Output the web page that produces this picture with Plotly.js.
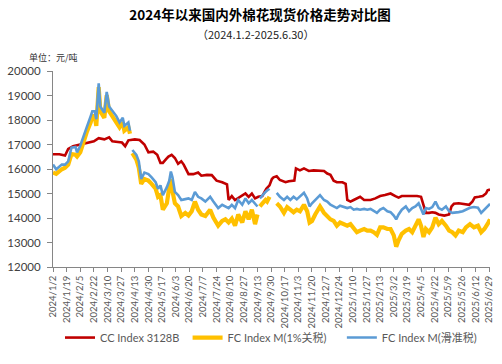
<!DOCTYPE html>
<html><head><meta charset="utf-8">
<script src="https://cdn.plot.ly/plotly-3.0.1.min.js"></script>
<style>html,body{margin:0;padding:0;background:#fff}#chart{width:502px;height:364px}</style>
</head><body><div id="chart"></div>
<script>
const redDates = ['2024-01-02','2024-01-10','2024-01-17','2024-01-21','2024-01-27','2024-02-05','2024-02-13','2024-02-22','2024-02-28','2024-03-06','2024-03-12','2024-03-16','2024-03-23','2024-03-28','2024-04-01','2024-04-05','2024-04-13','2024-04-19','2024-04-25','2024-04-30','2024-05-06','2024-05-11','2024-05-15','2024-05-18','2024-05-22','2024-05-25','2024-05-29','2024-06-02','2024-06-06','2024-06-10','2024-06-13','2024-06-19','2024-06-25','2024-07-01','2024-07-05','2024-07-12','2024-07-18','2024-07-24','2024-07-31','2024-08-06','2024-08-08','2024-08-12','2024-08-16','2024-08-22','2024-08-29','2024-09-02','2024-09-06','2024-09-10','2024-09-14','2024-09-19','2024-09-24','2024-09-28','2024-10-01','2024-10-03','2024-10-07','2024-10-11','2024-10-18','2024-10-22','2024-10-29','2024-10-31','2024-11-05','2024-11-10','2024-11-16','2024-11-22','2024-11-28','2024-12-05','2024-12-09','2024-12-13','2024-12-17','2024-12-21','2024-12-28','2025-01-01','2025-01-03','2025-01-07','2025-01-11','2025-01-16','2025-01-19','2025-01-24','2025-02-01','2025-02-07','2025-02-13','2025-02-19','2025-02-26','2025-03-04','2025-03-08','2025-03-12','2025-03-19','2025-03-25','2025-03-31','2025-04-05','2025-04-09','2025-04-11','2025-04-15','2025-04-19','2025-04-23','2025-04-27','2025-05-04','2025-05-10','2025-05-13','2025-05-16','2025-05-22','2025-05-29','2025-06-04','2025-06-08','2025-06-11','2025-06-16','2025-06-21','2025-06-25','2025-06-27','2025-06-30'];
const ccIndex = [16605,16605,16550,16815,16934,17010,17065,17130,17260,17210,17290,17130,17100,17080,16930,17170,17210,17180,17000,16680,16710,16580,16250,16250,16400,16510,16580,16450,16210,16315,16180,15790,15790,15855,15725,15760,15750,15525,15460,15370,14735,14895,14735,14865,15000,14865,15000,14800,14865,14895,15195,15330,15590,15660,15700,15550,15460,15500,15525,16025,15945,16025,15920,15945,15945,15920,15815,15760,15525,15460,15460,15395,14735,14670,14735,14800,14865,14735,14735,14800,14895,14935,15000,14895,14830,14895,14895,14910,14895,14865,14470,14210,14210,14235,14210,14145,14100,14145,14470,14580,14600,14580,14540,14670,14840,14865,14895,15000,15130,15160];

const fcDates = ['2024-01-02','2024-01-06','2024-01-13','2024-01-17','2024-01-21','2024-01-25','2024-01-30','2024-02-01','2024-02-05','2024-02-09','2024-02-13','2024-02-18','2024-02-20','2024-02-23','2024-02-25','2024-02-28','2024-03-01','2024-03-06','2024-03-09','2024-03-12','2024-03-16','2024-03-21','2024-03-25','2024-03-29','2024-03-31','2024-04-05','2024-04-07','2024-04-08','2024-04-10','2024-04-15','2024-04-18','2024-04-21','2024-04-25','2024-04-30','2024-05-04','2024-05-09','2024-05-12','2024-05-15','2024-05-18','2024-05-23','2024-05-26','2024-05-28','2024-05-30','2024-06-02','2024-06-06','2024-06-10','2024-06-15','2024-06-19','2024-06-23','2024-06-27','2024-07-01','2024-07-05','2024-07-10','2024-07-16','2024-07-20','2024-07-26','2024-07-31','2024-08-04','2024-08-08','2024-08-12','2024-08-16','2024-08-20','2024-08-25','2024-08-29','2024-09-02','2024-09-06','2024-09-10','2024-09-13','2024-09-15','2024-09-16','2024-09-19','2024-09-23','2024-09-25','2024-09-28','2024-10-03','2024-10-07','2024-10-11','2024-10-16','2024-10-20','2024-10-24','2024-10-28','2024-11-01','2024-11-05','2024-11-10','2024-11-14','2024-11-17','2024-11-20','2024-11-24','2024-11-30','2024-12-05','2024-12-09','2024-12-13','2024-12-17','2024-12-21','2024-12-25','2024-12-30','2025-01-03','2025-01-07','2025-01-11','2025-01-15','2025-01-19','2025-01-24','2025-01-28','2025-02-01','2025-02-05','2025-02-09','2025-02-13','2025-02-17','2025-02-22','2025-02-26','2025-03-02','2025-03-05','2025-03-08','2025-03-12','2025-03-17','2025-03-21','2025-03-25','2025-03-29','2025-04-02','2025-04-05','2025-04-08','2025-04-11','2025-04-15','2025-04-19','2025-04-23','2025-04-27','2025-05-01','2025-05-06','2025-05-10','2025-05-14','2025-05-18','2025-05-22','2025-05-27','2025-05-31','2025-06-05','2025-06-10','2025-06-15','2025-06-19','2025-06-23','2025-06-28','2025-06-30'];
const fcSliding = [16180,15990,16180,16180,16315,16870,16900,16680,16950,17370,17700,18160,18355,18355,18030,19500,18550,18290,19145,18550,18355,18160,17900,18090,17760,17900,17565,null,16775,16580,16315,15590,15855,15790,15660,15460,15195,15330,14935,15260,15525,15895,15660,15065,14935,14735,14770,14800,14735,15065,14865,14800,14670,14865,14670,14405,14540,14470,14405,14540,14405,14735,14540,14800,14600,14735,14600,14470,null,14800,14935,15065,15120,15195,null,15025,14865,14735,14865,14735,14865,14760,14865,15025,14800,14470,14600,14750,14935,14735,14670,14540,14470,14405,14500,14445,14405,14445,14340,14370,14340,14370,14340,14370,14275,14210,14340,14405,14275,14240,14100,13945,14145,14340,14470,14275,14405,14470,14600,14405,14145,14405,14370,14445,14670,14405,14340,14470,14275,14210,14210,14240,14275,14330,14420,14450,14420,14210,14340,14540,14580];
const fcOnePct = [15855,15800,15990,16050,16180,16605,16580,16510,16680,17100,17500,17900,18160,18160,17760,19340,18355,18090,19015,18355,18160,17960,17700,17900,17565,17700,17435,null,16645,16380,16050,15395,15590,15525,15395,15195,14865,14935,14340,14600,15250,15590,15100,14600,14470,14080,14210,14100,14275,14670,14340,14145,14080,14340,14015,13685,13880,13945,13815,13970,13685,14145,13815,14275,13945,14340,13750,14145,null,14470,14600,14735,14670,14865,null,14600,14470,14210,14445,14340,14235,14340,14275,14540,14275,13815,13880,14145,14470,14210,14080,13945,13880,13685,13815,13750,13685,13750,13550,13420,13485,13550,13485,13485,13420,13315,13620,13620,13550,13550,13290,12830,13090,13355,13485,13550,13420,13685,13945,13685,13225,13550,13420,13620,14015,13750,13880,13685,13485,13420,13290,13485,13420,13620,13750,13620,13685,13420,13550,13815,13945];

const seriesNames = ['CC Index 3128B', 'FC Index M(1%关税)', 'FC Index M(滑准税)'];
const xTickLabels = ['2024/1/2','2024/1/19','2024/2/5','2024/2/22','2024/3/10','2024/3/27','2024/4/13','2024/4/30','2024/5/17','2024/6/3','2024/6/20','2024/7/7','2024/7/24','2024/8/10','2024/8/27','2024/9/13','2024/9/30','2024/10/17','2024/11/3','2024/11/20','2024/12/7','2024/12/24','2025/1/10','2025/1/27','2025/2/13','2025/3/2','2025/3/19','2025/4/5','2025/4/22','2025/5/9','2025/5/26','2025/6/12','2025/6/29'];

const toIso = s => { const p = s.split('/'); return p[0] + '-' + p[1].padStart(2,'0') + '-' + p[2].padStart(2,'0'); };
const tickVals = xTickLabels.map(toIso);

const legendFont = {family: 'Lato, "Noto Sans CJK SC", sans-serif', size: 11, color: '#595959'};
const traces = [
  {x: redDates, y: ccIndex, name: seriesNames[0], type: 'scatter', mode: 'lines',
   line: {color: '#C00000', width: 2.6}, legend: 'legend'},
  {x: fcDates, y: fcOnePct, name: seriesNames[1], type: 'scatter', mode: 'lines', connectgaps: false,
   line: {color: '#FFC000', width: 4.2}, legend: 'legend2'},
  {x: fcDates, y: fcSliding, name: seriesNames[2], type: 'scatter', mode: 'lines', connectgaps: false,
   line: {color: '#5B9BD5', width: 2.6}, legend: 'legend3'}
];
const legBase = {orientation: 'h', yanchor: 'middle', xanchor: 'left', y: -0.36, font: legendFont,
  bgcolor: 'rgba(0,0,0,0)', borderwidth: 0};
const layout = {
  width: 502, height: 364,
  margin: {l: 53, r: 12, t: 71, b: 90},
  paper_bgcolor: '#fff', plot_bgcolor: '#fff',
  title: {text: '2024年以来国内外棉花现货价格走势对比图', x: 0.518, xref: 'container', xanchor: 'center',
    y: 0.959, yref: 'container', yanchor: 'middle',
    font: {family: '"Noto Sans CJK SC", sans-serif', size: 13.5, color: '#000', weight: 'bold'}},
  xaxis: {type: 'date', range: ['2024-01-02', '2025-06-30'], tickmode: 'array', tickvals: tickVals, ticktext: xTickLabels,
    tickangle: -90, ticks: 'outside', ticklen: 4, tickcolor: '#868686', showline: true, linecolor: '#868686', linewidth: 1,
    showgrid: false, zeroline: false, tickfont: {family: 'Lato, sans-serif', size: 9.5, color: '#595959'}},
  yaxis: {range: [12000, 20000], dtick: 1000, tick0: 12000, tickformat: 'd', ticks: 'outside', ticklen: 5, tickcolor: '#868686',
    showline: true, linecolor: '#868686', linewidth: 1, showgrid: false, zeroline: false,
    tickfont: {family: 'Lato, sans-serif', size: 11.5, color: '#404040'}, ticklabelstandoff: 4},
  showlegend: true,
  legend: Object.assign({}, legBase, {x: 0.016}),
  legend2: Object.assign({}, legBase, {x: 0.308}),
  legend3: Object.assign({}, legBase, {x: 0.661}),
  annotations: [
    {text: '（2024.1.2-2025.6.30）', xref: 'paper', yref: 'paper', x: 0.4645, y: 1.187, xanchor: 'center', yanchor: 'middle',
     showarrow: false, font: {family: '"Noto Sans CJK SC", sans-serif', size: 11, color: '#222'}},
    {text: '单位：元/吨', xref: 'paper', yref: 'paper', x: -0.0595, y: 1.069, xanchor: 'left', yanchor: 'middle',
     showarrow: false, font: {family: '"Noto Sans CJK SC", sans-serif', size: 9, color: '#333'}}
  ]
};
Plotly.newPlot('chart', traces, layout, {displayModeBar: false, staticPlot: true});
</script></body></html>
